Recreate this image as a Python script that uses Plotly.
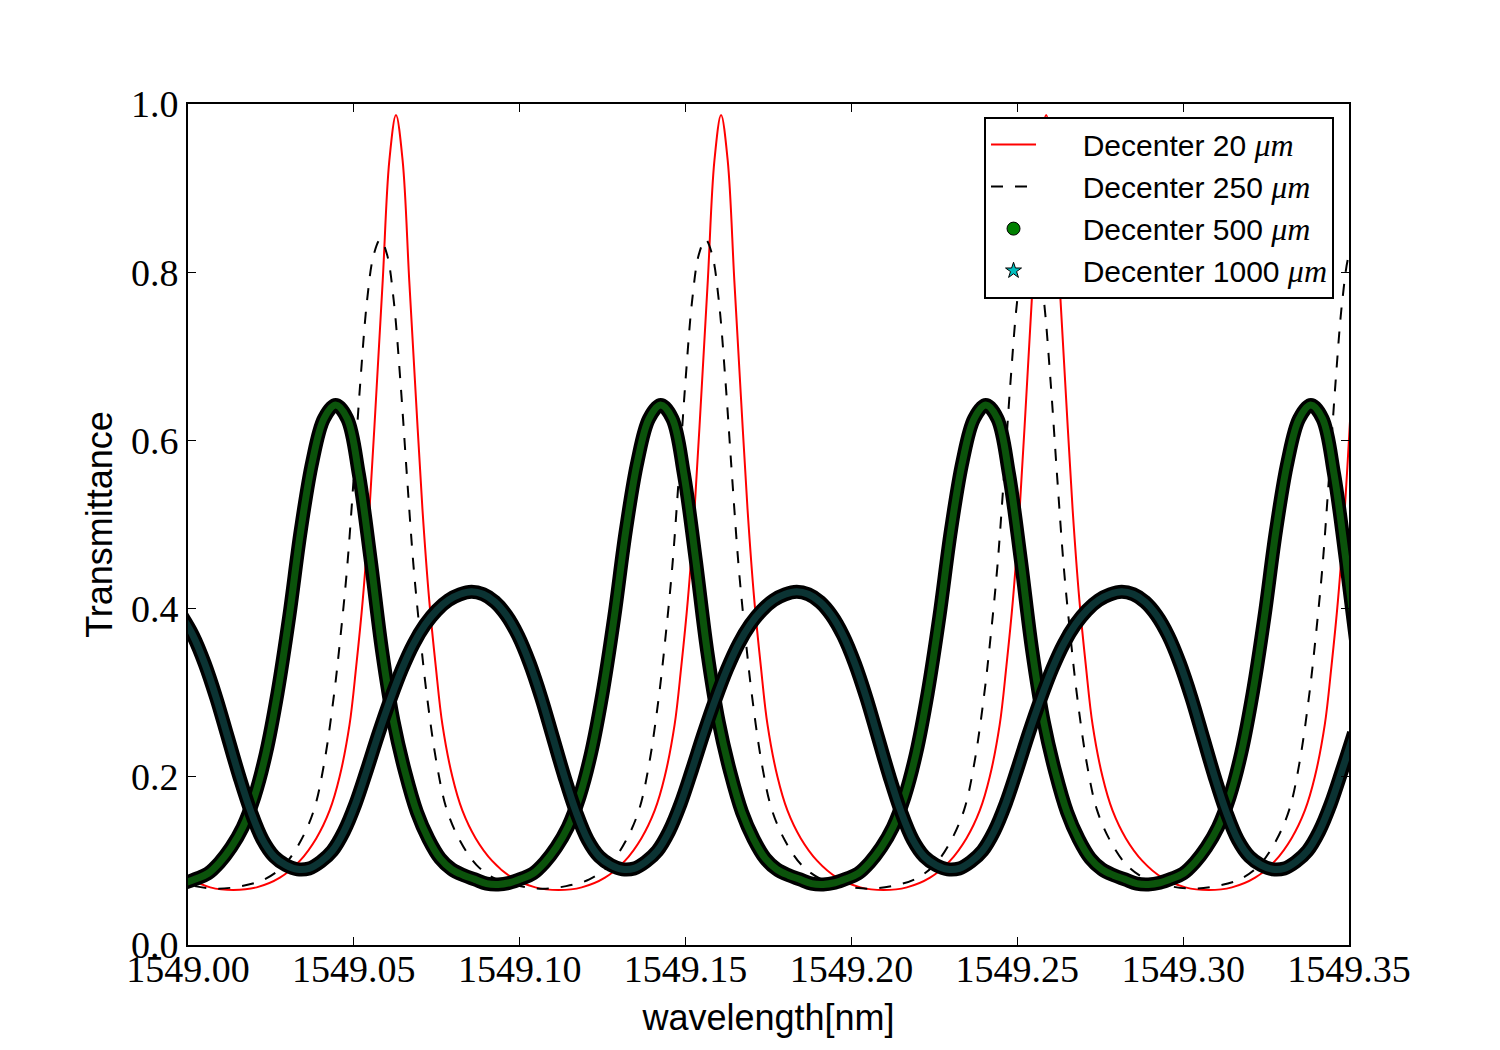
import plotly.graph_objects as go

# ---------------- data ----------------
red_x = [1548.9997, 1549.0067, 1549.0137,
         1549.0207, 1549.0277, 1549.0337, 1549.0387, 1549.0427, 1549.0457, 1549.0487, 1549.0507, 1549.0527,
         1549.0547, 1549.0567, 1549.0587, 1549.0607, 1549.0627, 1549.0647, 1549.0667, 1549.0687, 1549.0707,
         1549.0727, 1549.0747, 1549.0767, 1549.0797, 1549.0827, 1549.0867, 1549.0917, 1549.0977, 1549.1047, 1549.1117,
         1549.1187, 1549.1257, 1549.1317, 1549.1367, 1549.1407, 1549.1437, 1549.1467, 1549.1487, 1549.1507,
         1549.1527, 1549.1547, 1549.1567, 1549.1587, 1549.1607, 1549.1627, 1549.1647, 1549.1667, 1549.1687,
         1549.1707, 1549.1727, 1549.1747, 1549.1777, 1549.1807, 1549.1847, 1549.1897, 1549.1957, 1549.2027, 1549.2097,
         1549.2167, 1549.2237, 1549.2297, 1549.2347, 1549.2387, 1549.2417, 1549.2447, 1549.2467, 1549.2487,
         1549.2507, 1549.2527, 1549.2547, 1549.2567, 1549.2587, 1549.2607, 1549.2627, 1549.2647, 1549.2667,
         1549.2687, 1549.2707, 1549.2727, 1549.2757, 1549.2787, 1549.2827, 1549.2877, 1549.2937, 1549.3007, 1549.3077,
         1549.3147, 1549.3217, 1549.3277, 1549.3327, 1549.3367, 1549.3397, 1549.3427, 1549.3447, 1549.3467,
         1549.3487, 1549.3507]
red_y = [0.080, 0.0685, 0.0654,
         0.0685, 0.080, 0.100, 0.127, 0.160, 0.200, 0.262, 0.331, 0.411, 0.517, 0.651, 0.790, 0.933, 0.987,
         0.933, 0.790, 0.651, 0.517, 0.411, 0.331, 0.262, 0.200, 0.160, 0.127, 0.100, 0.080, 0.0685, 0.0654,
         0.0685, 0.080, 0.100, 0.127, 0.160, 0.200, 0.262, 0.331, 0.411, 0.517, 0.651, 0.790, 0.933, 0.987,
         0.933, 0.790, 0.651, 0.517, 0.411, 0.331, 0.262, 0.200, 0.160, 0.127, 0.100, 0.080, 0.0685, 0.0654,
         0.0685, 0.080, 0.100, 0.127, 0.160, 0.200, 0.262, 0.331, 0.411, 0.517, 0.651, 0.790, 0.933, 0.987,
         0.933, 0.790, 0.651, 0.517, 0.411, 0.331, 0.262, 0.200, 0.160, 0.127, 0.100, 0.080, 0.0685, 0.0654,
         0.0685, 0.080, 0.100, 0.127, 0.160, 0.200, 0.262, 0.331, 0.411, 0.517, 0.651]

dash_x = [1548.9950, 1549.0020, 1549.0090,
          1549.0160, 1549.0230, 1549.0290, 1549.0340, 1549.0380, 1549.0410, 1549.0440, 1549.0460, 1549.0480,
          1549.0500, 1549.0520, 1549.0540, 1549.0560, 1549.0580, 1549.0600, 1549.0620, 1549.0640, 1549.0660,
          1549.0680, 1549.0700, 1549.0720, 1549.0750, 1549.0780, 1549.0820, 1549.0870, 1549.0930, 1549.1000, 1549.1070,
          1549.1140, 1549.1210, 1549.1270, 1549.1320, 1549.1360, 1549.1390, 1549.1420, 1549.1440, 1549.1460,
          1549.1480, 1549.1500, 1549.1520, 1549.1540, 1549.1560, 1549.1580, 1549.1600, 1549.1620, 1549.1640,
          1549.1660, 1549.1680, 1549.1700, 1549.1730, 1549.1760, 1549.1800, 1549.1850, 1549.1910, 1549.1980, 1549.2050,
          1549.2120, 1549.2190, 1549.2250, 1549.2300, 1549.2340, 1549.2370, 1549.2400, 1549.2420, 1549.2440,
          1549.2460, 1549.2480, 1549.2500, 1549.2520, 1549.2540, 1549.2560, 1549.2580, 1549.2600, 1549.2620,
          1549.2640, 1549.2660, 1549.2680, 1549.2710, 1549.2740, 1549.2780, 1549.2830, 1549.2890, 1549.2960, 1549.3030,
          1549.3100, 1549.3170, 1549.3230, 1549.3280, 1549.3320, 1549.3350, 1549.3380, 1549.3400, 1549.3420,
          1549.3440, 1549.3460, 1549.3480, 1549.3500, 1549.3520]
dash_y = [0.078, 0.070, 0.067,
          0.070, 0.078, 0.095, 0.124, 0.161, 0.215, 0.297, 0.368, 0.450, 0.558, 0.672, 0.767, 0.821, 0.839,
          0.821, 0.767, 0.672, 0.558, 0.450, 0.368, 0.297, 0.215, 0.161, 0.124, 0.095, 0.078, 0.070, 0.067,
          0.070, 0.078, 0.095, 0.124, 0.161, 0.215, 0.297, 0.368, 0.450, 0.558, 0.672, 0.767, 0.821, 0.839,
          0.821, 0.767, 0.672, 0.558, 0.450, 0.368, 0.297, 0.215, 0.161, 0.124, 0.095, 0.078, 0.070, 0.067,
          0.070, 0.078, 0.095, 0.124, 0.161, 0.215, 0.297, 0.368, 0.450, 0.558, 0.672, 0.767, 0.821, 0.839,
          0.821, 0.767, 0.672, 0.558, 0.450, 0.368, 0.297, 0.215, 0.161, 0.124, 0.095, 0.078, 0.070, 0.067,
          0.070, 0.078, 0.095, 0.124, 0.161, 0.215, 0.297, 0.368, 0.450, 0.558, 0.672, 0.767, 0.821, 0.839]

green_x = [1548.9955, 1548.9990, 1549.0025, 1549.0060, 1549.0095, 1549.0130, 1549.0165, 1549.0200, 1549.0235,
           1549.0270, 1549.0305, 1549.0340, 1549.0375, 1549.0410, 1549.0445, 1549.0480, 1549.0515, 1549.0550,
           1549.0585, 1549.0620, 1549.0655, 1549.0690, 1549.0725, 1549.0760, 1549.0795, 1549.0830, 1549.0865,
           1549.0900,
           1549.0935, 1549.0970, 1549.1005, 1549.1040, 1549.1075, 1549.1110, 1549.1145, 1549.1180, 1549.1215,
           1549.1250, 1549.1285, 1549.1320, 1549.1355, 1549.1390, 1549.1425, 1549.1460, 1549.1495, 1549.1530,
           1549.1565, 1549.1600, 1549.1635, 1549.1670, 1549.1705, 1549.1740, 1549.1775, 1549.1810, 1549.1845,
           1549.1880,
           1549.1915, 1549.1950, 1549.1985, 1549.2020, 1549.2055, 1549.2090, 1549.2125, 1549.2160, 1549.2195,
           1549.2230, 1549.2265, 1549.2300, 1549.2335, 1549.2370, 1549.2405, 1549.2440, 1549.2475, 1549.2510,
           1549.2545, 1549.2580, 1549.2615, 1549.2650, 1549.2685, 1549.2720, 1549.2755, 1549.2790, 1549.2825,
           1549.2860,
           1549.2895, 1549.2930, 1549.2965, 1549.3000, 1549.3035, 1549.3070, 1549.3105, 1549.3140, 1549.3175,
           1549.3210, 1549.3245, 1549.3280, 1549.3315, 1549.3350, 1549.3385, 1549.3420, 1549.3455, 1549.3490,
           1549.3525]
green_y = [0.072, 0.074, 0.0788, 0.085, 0.098, 0.116, 0.140, 0.176, 0.228, 0.300, 0.390, 0.493, 0.575, 0.626,
           0.642, 0.626, 0.560, 0.460, 0.350, 0.265, 0.205, 0.158, 0.126, 0.103, 0.090, 0.083, 0.078, 0.073,
           0.072, 0.074, 0.0788, 0.085, 0.098, 0.116, 0.140, 0.176, 0.228, 0.300, 0.390, 0.493, 0.575, 0.626,
           0.642, 0.626, 0.560, 0.460, 0.350, 0.265, 0.205, 0.158, 0.126, 0.103, 0.090, 0.083, 0.078, 0.073,
           0.072, 0.074, 0.0788, 0.085, 0.098, 0.116, 0.140, 0.176, 0.228, 0.300, 0.390, 0.493, 0.575, 0.626,
           0.642, 0.626, 0.560, 0.460, 0.350, 0.265, 0.205, 0.158, 0.126, 0.103, 0.090, 0.083, 0.078, 0.073,
           0.072, 0.074, 0.0788, 0.085, 0.098, 0.116, 0.140, 0.176, 0.228, 0.300, 0.390, 0.493, 0.575, 0.626,
           0.642, 0.626, 0.560, 0.460, 0.350]

cyan_x = [1548.9980, 1549.0015, 1549.0050, 1549.0085, 1549.0120, 1549.0155, 1549.0190, 1549.0225, 1549.0260,
          1549.0295, 1549.0330,
          1549.0365, 1549.0400, 1549.0435, 1549.0470, 1549.0505, 1549.0540, 1549.0575, 1549.0610, 1549.0645,
          1549.0680, 1549.0715, 1549.0750, 1549.0785, 1549.0820, 1549.0855, 1549.0890, 1549.0925, 1549.0960,
          1549.0995, 1549.1030, 1549.1065, 1549.1100, 1549.1135, 1549.1170, 1549.1205, 1549.1240, 1549.1275,
          1549.1310,
          1549.1345, 1549.1380, 1549.1415, 1549.1450, 1549.1485, 1549.1520, 1549.1555, 1549.1590, 1549.1625,
          1549.1660, 1549.1695, 1549.1730, 1549.1765, 1549.1800, 1549.1835, 1549.1870, 1549.1905, 1549.1940,
          1549.1975, 1549.2010, 1549.2045, 1549.2080, 1549.2115, 1549.2150, 1549.2185, 1549.2220, 1549.2255,
          1549.2290,
          1549.2325, 1549.2360, 1549.2395, 1549.2430, 1549.2465, 1549.2500, 1549.2535, 1549.2570, 1549.2605,
          1549.2640, 1549.2675, 1549.2710, 1549.2745, 1549.2780, 1549.2815, 1549.2850, 1549.2885, 1549.2920,
          1549.2955, 1549.2990, 1549.3025, 1549.3060, 1549.3095, 1549.3130, 1549.3165, 1549.3200, 1549.3235,
          1549.3270,
          1549.3305, 1549.3340, 1549.3375, 1549.3410, 1549.3445, 1549.3480, 1549.3515]
cyan_y = [0.392, 0.368, 0.335, 0.294, 0.247, 0.200, 0.158, 0.125, 0.105, 0.095, 0.090,
          0.091, 0.099, 0.112, 0.135, 0.168, 0.209, 0.252, 0.292, 0.328, 0.358, 0.381, 0.398, 0.410, 0.417,
          0.420, 0.417, 0.408, 0.392, 0.368, 0.335, 0.294, 0.247, 0.200, 0.158, 0.125, 0.105, 0.095, 0.090,
          0.091, 0.099, 0.112, 0.135, 0.168, 0.209, 0.252, 0.292, 0.328, 0.358, 0.381, 0.398, 0.410, 0.417,
          0.420, 0.417, 0.408, 0.392, 0.368, 0.335, 0.294, 0.247, 0.200, 0.158, 0.125, 0.105, 0.095, 0.090,
          0.091, 0.099, 0.112, 0.135, 0.168, 0.209, 0.252, 0.292, 0.328, 0.358, 0.381, 0.398, 0.410, 0.417,
          0.420, 0.417, 0.408, 0.392, 0.368, 0.335, 0.294, 0.247, 0.200, 0.158, 0.125, 0.105, 0.095, 0.090,
          0.091, 0.099, 0.112, 0.135, 0.168, 0.209, 0.252]

series_names = ["Decenter 20", "Decenter 250", "Decenter 500", "Decenter 1000"]
x_tick_vals = [1549.00, 1549.05, 1549.10, 1549.15, 1549.20, 1549.25, 1549.30, 1549.35]
x_tick_text = ["1549.00", "1549.05", "1549.10", "1549.15", "1549.20", "1549.25", "1549.30", "1549.35"]
y_tick_vals = [0.0, 0.2, 0.4, 0.6, 0.8, 1.0]
y_tick_text = ["0.0", "0.2", "0.4", "0.6", "0.8", "1.0"]

# ---------------- figure ----------------
PAD = "\u00a0" * 5
MU = ' <i><span style="font-family:Liberation Serif;font-size:32px">μm</span></i>'
SANS = "Liberation Sans, Arial, sans-serif"
SERIF = "Liberation Serif, Times New Roman, serif"

fig = go.Figure()

fig.add_trace(go.Scatter(x=red_x, y=red_y, mode="lines", name=PAD + series_names[0] + MU, legendgroup="a",
                         line=dict(color="#ff0000", width=2, shape="spline")))
fig.add_trace(go.Scatter(x=dash_x, y=dash_y, mode="lines", name=PAD + series_names[1] + MU, legendgroup="b",
                         line=dict(color="#000000", width=2, dash="12px,12px", shape="spline")))

# green marker series, rendered as a dense marker band
fig.add_trace(go.Scatter(x=green_x, y=green_y, mode="lines", showlegend=False, hoverinfo="skip",
                         legendgroup="c", line=dict(color="#000000", width=14, shape="spline")))
fig.add_trace(go.Scatter(x=green_x, y=green_y, mode="lines", showlegend=False, legendgroup="c",
                         line=dict(color="#0b530b", width=7, shape="spline")))
# cyan marker series
fig.add_trace(go.Scatter(x=cyan_x, y=cyan_y, mode="lines", showlegend=False, hoverinfo="skip",
                         legendgroup="d", line=dict(color="#000000", width=14, shape="spline")))
fig.add_trace(go.Scatter(x=cyan_x, y=cyan_y, mode="lines", showlegend=False, legendgroup="d",
                         line=dict(color="#0b3333", width=7, shape="spline")))

# legend entries for the marker series
fig.add_trace(go.Scatter(x=[None], y=[None], mode="markers", name=PAD + series_names[2] + MU, legendgroup="c",
                         marker=dict(symbol="circle", size=13, color="#008000",
                                     line=dict(color="#000000", width=1))))
fig.add_trace(go.Scatter(x=[None], y=[None], mode="markers", name=PAD + series_names[3] + MU, legendgroup="d",
                         marker=dict(symbol="star", size=12, color="#00bfbf",
                                     line=dict(color="#000000", width=1))))

axis_common = dict(showgrid=False, zeroline=False, showline=True, linecolor="#000000", linewidth=2,
                   mirror="ticks", ticks="inside", ticklen=8, tickwidth=1, tickcolor="#000000",
                   tickfont=dict(family=SERIF, size=38, color="#000000"))

fig.update_layout(
    width=1500, height=1050,
    margin=dict(l=188, r=151, t=104, b=105),
    paper_bgcolor="#ffffff", plot_bgcolor="#ffffff",
    xaxis=dict(range=[1549.00, 1549.35], tickvals=x_tick_vals, ticktext=x_tick_text, ticklabelstandoff=-11,
               title=dict(text="wavelength[nm]", font=dict(family=SANS, size=36, color="#000000"), standoff=16),
               **axis_common),
    yaxis=dict(range=[0, 1], tickvals=y_tick_vals, ticktext=y_tick_text,
               title=dict(text="Transmittance", font=dict(family=SANS, size=36, color="#000000"), standoff=7),
               **axis_common),
    legend=dict(x=0.9871, y=0.985, xanchor="right", yanchor="top", bgcolor="#ffffff",
                bordercolor="#000000", borderwidth=2, font=dict(family=SANS, size=30, color="#000000"),
                itemwidth=45, traceorder="grouped", tracegroupgap=0),
    showlegend=True,
)

fig.write_html("out.html")
